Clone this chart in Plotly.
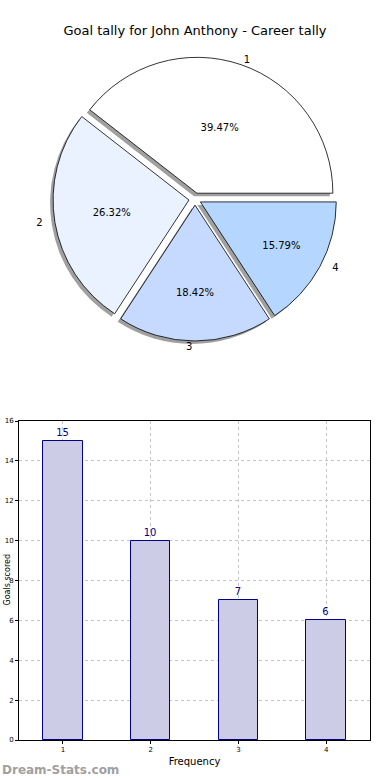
import plotly.graph_objects as go

# ---- data ----
labels = ["1", "2", "3", "4"]
values = [15, 10, 7, 6]
pie_colors = ["#ffffff", "#ebf2ff", "#c6d9ff", "#b4d6ff"]
freq = [1, 2, 3, 4]
y_ticks = [0, 2, 4, 6, 8, 10, 12, 14, 16]

title_text = "Goal tally for John Anthony - Career tally"
x_title = "Frequency"
y_title = "Goals scored"
watermark = "Dream-Stats.com"

W, H = 390, 780
FONT = "DejaVu Sans"

# pie geometry (pixels)
cx, cy, half = 195, 199, 142
pull = 0.045
# counterclockwise pies in plotly end the first slice at `rotation`; shift so slice 1 starts at 3 o'clock
rotation = 90 - 360.0 * values[0] / sum(values)

def dom(x0, x1, ytop, ybot):
    return dict(x=[x0 / W, x1 / W], y=[1 - ybot / H, 1 - ytop / H])

fig = go.Figure()

common = dict(labels=labels, values=values, sort=False, direction="counterclockwise",
              rotation=rotation, pull=[pull] * len(values))

# shadow pie
sdx, sdy = -3, 3
fig.add_trace(go.Pie(
    **common,
    marker=dict(colors=["rgba(120,120,120,0.7)"] * 4, line=dict(width=0)),
    textinfo="none", hoverinfo="skip", showlegend=False,
    domain=dom(cx - half + sdx, cx + half + sdx, cy - half + sdy, cy + half + sdy),
))

# main pie with percentages
fig.add_trace(go.Pie(
    **common,
    marker=dict(colors=pie_colors, line=dict(color="#000000", width=0.8)),
    texttemplate="%{percent:.2%}", textposition="inside", insidetextorientation="horizontal",
    textfont=dict(family=FONT, size=10, color="#000000"),
    showlegend=False,
    domain=dom(cx - half, cx + half, cy - half, cy + half),
))

# outside labels pie (transparent); padding keeps side labels away from the slices
nb = "\u00a0" * 3
label_templates = ["%{label}", "%{label}" + nb, "%{label}", nb + "%{label}"]
fig.add_trace(go.Pie(
    **common,
    marker=dict(colors=["rgba(0,0,0,0)"] * 4, line=dict(width=0)),
    texttemplate=label_templates, textposition="outside",
    textfont=dict(family=FONT, size=10, color="#000000"),
    hoverinfo="skip", showlegend=False,
    domain=dom(cx - half, cx + half, cy - half, cy + half),
))

# bar chart
fig.add_trace(go.Bar(
    x=freq, y=values, width=0.45,
    marker=dict(color="#ccccE6", line=dict(color="#00008b", width=1)),
    text=[str(v) for v in values], textposition="outside", cliponaxis=False,
    textfont=dict(family=FONT, size=10, color="#00008b"),
    showlegend=False, xaxis="x", yaxis="y",
))

ax_x0, ax_x1, ax_top, ax_bot = 19, 370, 421, 740

fig.update_layout(
    width=W, height=H,
    margin=dict(l=0, r=0, t=0, b=0, autoexpand=False),
    paper_bgcolor="white", plot_bgcolor="white",
    font=dict(family=FONT, color="#000000"),
    title=dict(text=title_text, x=0.5, xanchor="center", xref="paper",
               y=1 - 30 / H, yref="paper", yanchor="middle",
               font=dict(family=FONT, size=13, color="#000000"), automargin=False),
    xaxis=dict(
        domain=[ax_x0 / W, ax_x1 / W], range=[0.5, 4.5], automargin=False,
        tickmode="array", tickvals=freq, ticktext=[str(f) for f in freq],
        tickfont=dict(size=7), ticks="outside", ticklen=3, tickcolor="#000",
        showgrid=True, gridcolor="#c4c4c4", griddash="dot", gridwidth=1,
        showline=True, linecolor="#000", linewidth=1, mirror=True, zeroline=False,
        title=dict(text=x_title, font=dict(size=10), standoff=4),
        anchor="y",
    ),
    yaxis=dict(
        domain=[1 - ax_bot / H, 1 - ax_top / H], range=[0, 16], automargin=False,
        tickmode="array", tickvals=y_ticks, tickfont=dict(size=7),
        ticks="outside", ticklen=3, tickcolor="#000",
        showgrid=True, gridcolor="#c4c4c4", griddash="dot", gridwidth=1,
        showline=True, linecolor="#000", linewidth=1, mirror=True, zeroline=False,
        anchor="x",
    ),
    bargap=0,
    annotations=[
        dict(text=y_title, xref="paper", yref="paper", x=0, y=1 - 580 / H,
             xanchor="left", yanchor="middle", textangle=-90, showarrow=False,
             font=dict(family=FONT, size=8, color="#000")),
        dict(text="<b>" + watermark + "</b>", xref="paper", yref="paper", x=0, y=1 - 770 / H,
             xanchor="left", yanchor="middle", showarrow=False,
             font=dict(family=FONT, size=12, color="#a0a0a0")),
    ],
)

fig.write_html("out.html", config={"displayModeBar": False},
               post_script="document.body.style.margin='0';document.body.style.padding='0';")
